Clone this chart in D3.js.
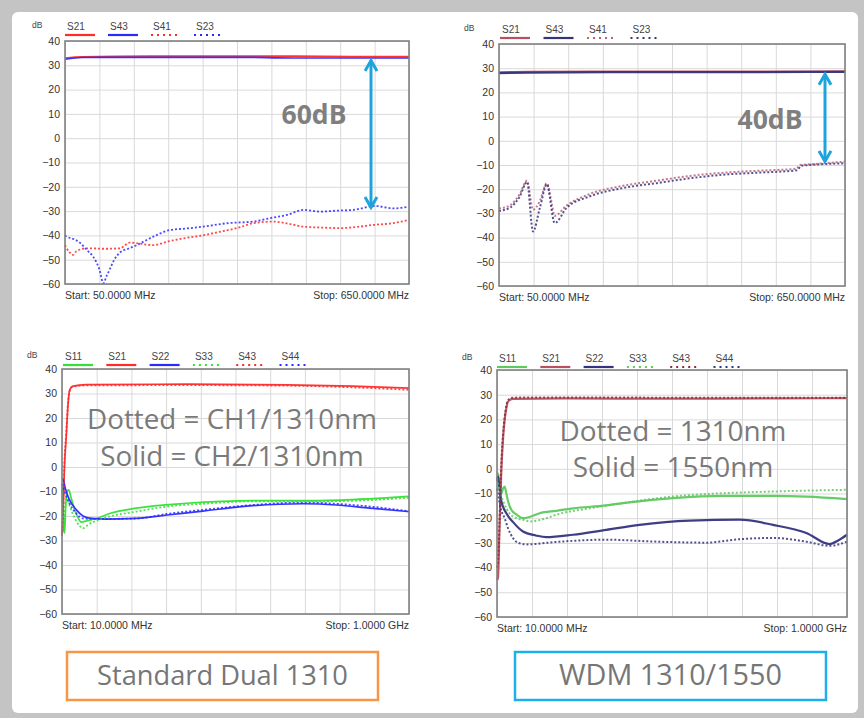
<!DOCTYPE html>
<html>
<head>
<meta charset="utf-8">
<script src="https://cdn.jsdelivr.net/npm/d3@7"></script>
<style>
  body { margin: 0; background: #c4c4c4; }
  svg { display: block; }
</style>
</head>
<body>
<div id="chart-area"></div>
<script>
/*
*    s-parameter comparison, 4 analyzer screens
*/

// y ticks shared by every screen
var yTicks = [40, 30, 20, 10, 0, -10, -20, -30, -40, -50, -60];

// sweep ranges (MHz) and footer labels
var sweepTop = [50, 650];
var sweepBottom = [10, 1000];
var startStopTop = ["Start: 50.0000 MHz", "Stop: 650.0000 MHz"];
var startStopBottom = ["Start: 10.0000 MHz", "Stop: 1.0000 GHz"];

// legend names
var namesTop = ["S21", "S43", "S41", "S23"];
var namesBottom = ["S11", "S21", "S22", "S33", "S43", "S44"];

// screen 1 - standard dual, isolation   [MHz, dB]
var p1S21 = [[50,33],[80,33.5],[200,33.8],[350,33.8],[450,33.8],[550,33.6],[650,33.6]];
var p1S43 = [[50,32.5],[80,33.2],[200,33.3],[350,33.3],[450,33],[550,33],[650,33]];
var p1S41 = [[50,-44],[53,-45.3],[58,-47],[64,-48],[70,-46.5],[88,-45.3],[120,-45.5],[146,-45.3],[163,-43],
             [204,-44],[230,-42.5],[262,-41],[290,-40],[320,-38.5],[350,-37],[378,-35],[413,-34.3],[440,-35.2],
             [466,-36.4],[500,-36.8],[530,-37],[560,-36.5],[588,-35.7],[620,-35],[649,-33.7]];
var p1S23 = [[50,-40],[53,-40.5],[65,-41.5],[76,-43],[88,-46],[99,-48.7],[110,-54],[117,-59.7],[122,-57],
             [128,-54],[136,-50],[146,-47],[160,-45.5],[175,-44],[204,-40.5],[233,-37.8],[260,-37.2],[291,-36.4],
             [332,-35],[378,-34.3],[410,-32.8],[437,-31.6],[466,-29.5],[495,-30.2],[525,-29.8],[553,-29.5],
             [591,-27.9],[623,-28.9],[649,-28.2]];

// screen 2 - wdm, isolation
var p2S21 = [[50,28.3],[100,28.5],[300,28.6],[500,28.6],[650,28.7]];
var p2S43 = [[50,28],[100,28.2],[300,28.4],[500,28.4],[650,28.5]];
var p2S41 = [[50,-28],[70,-26.5],[86,-22],[98.6,-16.5],[109,-28.5],[120.6,-25],[133,-17.5],[140,-24],[146.6,-31],
             [167,-26.8],[207,-22],[265,-18.6],[323,-16.5],[381,-14.5],[439,-13.2],[497,-12.4],[566,-11.5],
             [572,-10],[584,-9.8],[650,-8.6]];
var p2S23 = [[50,-29],[70,-27.5],[86,-23],[98.6,-17],[109,-37.5],[120.6,-28],[133,-18],[146.6,-34],[167,-27.8],
             [207,-23],[265,-19.5],[323,-17.5],[381,-15.5],[439,-14],[497,-13.2],[566,-12.2],[575,-10.3],[650,-9.3]];

// screen 3 - standard dual, gain / return loss
var p3S11 = [[10,-8],[13,-14],[15,-26],[17.6,-27],[20,-18],[24,-10],[29,-9.3],[35,-12],[45,-17],[55,-20.5],
             [65,-22.5],[80,-22],[108,-21],[146,-19],[222,-16.8],[365,-14.8],[555,-13.7],[745,-13.7],[888,-13],[1000,-12]];
var p3S21 = [[10,-28],[13,-20],[17,0],[22,12],[27,25],[32,31.5],[41,33],[79,33.6],[365,33.8],[650,33.5],[840,33],[1000,32.2]];
var p3S22 = [[10,-5],[13,-5.2],[20,-9],[30,-13],[51,-17.5],[70,-20],[89,-20.9],[136,-21.3],[222,-21],[317,-19.5],
             [412,-18],[555,-15.8],[698,-15],[793,-15.5],[888,-16.8],[1000,-18.2]];
var p3S33 = [[10,-10],[13,-20],[16,-24],[20,-14],[25,-13],[32,-16],[45,-20.5],[60,-24],[70,-25],[85,-23.5],
             [127,-21],[222,-18.2],[317,-16],[412,-15],[555,-14],[745,-14],[888,-13.5],[1000,-12.5]];
var p3S43 = [[10,-28],[13,-18],[17,2],[22,14],[27,26],[32,31],[41,32.8],[79,33.3],[365,33.4],[650,33.2],[840,32.5],[1000,31.5]];
var p3S44 = [[10,-7],[13,-8],[20,-11],[30,-14.5],[51,-19],[70,-21],[108,-21.2],[222,-21],[317,-19],[412,-17.5],
             [555,-15.5],[698,-14.5],[840,-15.5],[1000,-18]];

// screen 4 - wdm, gain / return loss
var p4S11 = [[10,-2],[12.8,-1.8],[17,-6],[22.3,-10],[27,-8],[31.7,-7.2],[36.4,-10],[41,-13],[50.5,-16.6],[65,-18.5],
             [83.5,-20],[102,-19.5],[130.7,-18],[178,-17],[225,-16],[319,-14.8],[366,-13.9],[508,-11.9],[649,-11],
             [791,-11],[885,-11.3],[1000,-12.3]];
var p4S21 = [[10,-45],[12.8,-44],[17,-25],[22.3,-0.4],[27,12],[31.7,19.8],[36.4,24.5],[41,27.2],[55,28.3],
             [200,28.5],[500,28.4],[800,28.5],[1000,28.6]];
var p4S22 = [[10,-5],[12.8,-3.1],[17,-8],[22.3,-13],[36.4,-18],[55,-21.5],[83.5,-25.4],[120,-27],[149.5,-27.7],
             [225,-26.7],[319,-24.7],[413.5,-22.7],[555,-21],[696,-20.6],[790.7,-22.7],[885,-26],[951,-30.5],
             [975,-29],[1000,-26.7]];
var p4S33 = [[10,-4],[13,-6],[20,-10],[30,-14],[45,-18],[65,-20],[83.5,-20.6],[102,-21.3],[150,-20],[178,-18.6],
             [272,-16],[366,-13.9],[508,-11.2],[649,-9.9],[791,-9.2],[1000,-8.5]];
var p4S43 = [[10,-40],[12.8,-38],[17,-22],[22.3,2],[27,14],[31.7,21],[36.4,25.5],[41,27.8],[55,28.8],
             [200,28.9],[500,28.8],[800,28.8],[1000,28.8]];
var p4S44 = [[10,-8],[15,-12],[22.3,-17],[31.7,-20],[41,-24],[55,-28],[70,-30],[93,-30.6],[178,-29.6],[319,-28.7],
             [461,-29.5],[602,-29.9],[696,-28.5],[790.7,-28],[885,-29.5],[951,-31.2],[1000,-29.5]];

// annotation texts
var gapLabels = ["60dB", "40dB"];
var noteLeft = ["Dotted = CH1/1310nm", "Solid = CH2/1310nm"];
var noteRight = ["Dotted = 1310nm", "Solid = 1550nm"];
var boxLabels = ["Standard Dual 1310", "WDM 1310/1550"];

var RED = "#ff2a2a", BLUE = "#2a2aff", GREEN = "#33e033";
var MRED = "#b8505e", NAVY = "#34347e", MGREEN = "#5fc860", DRED = "#8a2a3c";
var FONT = "Liberation Sans, Arial, sans-serif";

var panels = [
  { left: 65, right: 409, top: 41, bottom: 284, sweep: sweepTop, footer: startStopTop, legX: 65, legY: 30, step: 43, dbX: 32,
    series: [ {name: namesTop[0], data: p1S21, color: RED, dot: false},
              {name: namesTop[1], data: p1S43, color: BLUE, dot: false},
              {name: namesTop[2], data: p1S41, color: RED, dot: true},
              {name: namesTop[3], data: p1S23, color: BLUE, dot: true} ] },
  { left: 499, right: 845, top: 44, bottom: 286, sweep: sweepTop, footer: startStopTop, legX: 500, legY: 33, step: 43.5, dbX: 464, thick: true,
    series: [ {name: namesTop[0], data: p2S21, color: MRED, dot: false},
              {name: namesTop[1], data: p2S43, color: NAVY, dot: false},
              {name: namesTop[2], data: p2S41, color: "#b86078", dot: true},
              {name: namesTop[3], data: p2S23, color: NAVY, dot: true} ] },
  { left: 62, right: 409, top: 369, bottom: 614, sweep: sweepBottom, footer: startStopBottom, legX: 63, legY: 360, step: 43.3, dbX: 27,
    series: [ {name: namesBottom[0], data: p3S11, color: GREEN, dot: false},
              {name: namesBottom[1], data: p3S21, color: RED, dot: false},
              {name: namesBottom[2], data: p3S22, color: BLUE, dot: false},
              {name: namesBottom[3], data: p3S33, color: GREEN, dot: true},
              {name: namesBottom[4], data: p3S43, color: RED, dot: true},
              {name: namesBottom[5], data: p3S44, color: BLUE, dot: true} ] },
  { left: 497, right: 847, top: 370, bottom: 617, sweep: sweepBottom, footer: startStopBottom, legX: 497, legY: 362, step: 43.3, dbX: 462, thick: true,
    series: [ {name: namesBottom[0], data: p4S11, color: MGREEN, dot: false},
              {name: namesBottom[1], data: p4S21, color: MRED, dot: false},
              {name: namesBottom[2], data: p4S22, color: NAVY, dot: false},
              {name: namesBottom[3], data: p4S33, color: MGREEN, dot: true},
              {name: namesBottom[4], data: p4S43, color: DRED, dot: true},
              {name: namesBottom[5], data: p4S44, color: NAVY, dot: true} ] }
];

var svg = d3.select("#chart-area").append("svg").attr("width", 864).attr("height", 718);

svg.append("rect").attr("x", 0).attr("y", 0).attr("width", 864).attr("height", 718).attr("fill", "#c4c4c4");
svg.append("rect").attr("x", 12).attr("y", 12).attr("width", 846).attr("height", 701).attr("rx", 6).attr("fill", "white");

panels.forEach(function(p) {
    var x = d3.scaleLinear().domain(p.sweep).range([p.left, p.right]);
    var y = d3.scaleLinear().domain([-60, 40]).range([p.bottom, p.top]);
    var w = p.right - p.left, h = p.bottom - p.top;
    var g = svg.append("g");

    // grid
    var xGrid = d3.range(p.sweep[0], p.sweep[1] + 0.001, (p.sweep[1] - p.sweep[0]) / 10);
    g.append("g").attr("transform", "translate(0," + p.bottom + ")")
        .call(d3.axisBottom(x).tickValues(xGrid).tickSize(-h).tickFormat(""))
        .call(function(s) { s.select(".domain").remove(); s.selectAll("line").attr("stroke", "#d9d9d9"); });
    g.append("g").attr("transform", "translate(" + p.left + ",0)")
        .call(d3.axisLeft(y).tickValues(yTicks).tickSize(-w).tickFormat(""))
        .call(function(s) { s.select(".domain").remove(); s.selectAll("line").attr("stroke", "#d9d9d9"); });

    // y labels
    g.append("g").attr("transform", "translate(" + p.left + ",0)")
        .call(d3.axisLeft(y).tickValues(yTicks).tickSize(0).tickPadding(5))
        .call(function(s) {
            s.select(".domain").remove();
            s.selectAll("text").attr("font-family", FONT).attr("font-size", "10.5px").attr("fill", "#333");
        });

    // traces
    var line = d3.line().x(function(d) { return x(d[0]); }).y(function(d) { return y(d[1]); }).curve(d3.curveMonotoneX);
    g.append("g").selectAll("path").data(p.series).enter().append("path")
        .attr("d", function(d) { return line(d.data); })
        .attr("fill", "none")
        .attr("stroke", function(d) { return d.color; })
        .attr("stroke-width", function(d) { return d.dot ? (p.thick ? 2 : 1.8) : (p.thick ? 2.2 : 1.7); })
        .attr("stroke-dasharray", function(d) { return d.dot ? "2,2" : null; })
        .attr("opacity", function(d) { return d.dot ? 0.85 : 0.95; });

    // frame
    g.append("rect").attr("x", p.left).attr("y", p.top).attr("width", w).attr("height", h)
        .attr("fill", "none").attr("stroke", "#808080").attr("stroke-width", 1.6);

    // legend
    var leg = g.append("g").selectAll("g").data(p.series).enter().append("g")
        .attr("transform", function(d, i) { return "translate(" + (p.legX + i * p.step) + "," + p.legY + ")"; });
    leg.append("text").attr("x", 2).attr("y", 0).text(function(d) { return d.name; })
        .attr("font-family", FONT).attr("font-size", "10px").attr("fill", "#444");
    leg.append("line").attr("x1", 0).attr("x2", 30).attr("y1", 5).attr("y2", 5)
        .attr("stroke", function(d) { return d.color; })
        .attr("stroke-width", function(d) { return d.dot ? 2 : 2.2; })
        .attr("stroke-dasharray", function(d) { return d.dot ? "2,4" : null; });

    g.append("text").attr("x", p.dbX).attr("y", p.legY - 2).text("dB")
        .attr("font-family", FONT).attr("font-size", "8.5px").attr("fill", "#444");

    // start / stop
    g.append("text").attr("x", p.left).attr("y", p.bottom + 15).text(p.footer[0])
        .attr("font-family", FONT).attr("font-size", "10.5px").attr("fill", "#333");
    g.append("text").attr("x", p.right).attr("y", p.bottom + 15).attr("text-anchor", "end").text(p.footer[1])
        .attr("font-family", FONT).attr("font-size", "10.5px").attr("fill", "#333");
});

// fit a text node to a target width
function fitText(sel, width) {
    var fs = parseFloat(sel.attr("font-size"));
    var len = sel.node().getComputedTextLength();
    var size = fs * width / len;
    sel.attr("font-size", size + "px");
    return size;
}

// isolation arrows
var defs = svg.append("defs");
defs.append("marker").attr("id", "head").attr("viewBox", "0 0 10 10").attr("refX", 8).attr("refY", 5)
    .attr("markerWidth", 5).attr("markerHeight", 5).attr("orient", "auto-start-reverse")
    .append("path").attr("d", "M1,1 L8,5 L1,9").attr("fill", "none").attr("stroke", "#1ea4dc").attr("stroke-width", 2);

var p1y = d3.scaleLinear().domain([-60, 40]).range([panels[0].bottom, panels[0].top]);
var p2y = d3.scaleLinear().domain([-60, 40]).range([panels[1].bottom, panels[1].top]);
svg.append("line").attr("x1", 371).attr("x2", 371).attr("y1", p1y(32)).attr("y2", p1y(-28.5))
    .attr("stroke", "#1ea4dc").attr("stroke-width", 3).attr("marker-start", "url(#head)").attr("marker-end", "url(#head)");
svg.append("line").attr("x1", 825).attr("x2", 825).attr("y1", p2y(27.5)).attr("y2", p2y(-8.5))
    .attr("stroke", "#1ea4dc").attr("stroke-width", 3).attr("marker-start", "url(#head)").attr("marker-end", "url(#head)");

var t60 = svg.append("text").attr("x", 314).attr("y", 124).attr("text-anchor", "middle").text(gapLabels[0])
    .attr("font-family", "Open Sans, sans-serif").attr("font-weight", "bold").attr("font-size", "24px").attr("fill", "#7f7f7f");
fitText(t60, 65);
var t40 = svg.append("text").attr("x", 770).attr("y", 129).attr("text-anchor", "middle").text(gapLabels[1])
    .attr("font-family", "Open Sans, sans-serif").attr("font-weight", "bold").attr("font-size", "24px").attr("fill", "#7f7f7f");
fitText(t40, 65);

// notes
var nl = svg.append("text").attr("x", 232).attr("y", 429).attr("text-anchor", "middle").text(noteLeft[0])
    .attr("font-family", "Open Sans, sans-serif").attr("font-size", "24px").attr("fill", "#7a7a7a");
var nlSize = fitText(nl, 290);
svg.append("text").attr("x", 232).attr("y", 466).attr("text-anchor", "middle").text(noteLeft[1])
    .attr("font-family", "Open Sans, sans-serif").attr("font-size", nlSize + "px").attr("fill", "#7a7a7a");

var nr = svg.append("text").attr("x", 673).attr("y", 441).attr("text-anchor", "middle").text(noteRight[0])
    .attr("font-family", "Open Sans, sans-serif").attr("font-size", "24px").attr("fill", "#7a7a7a");
var nrSize = fitText(nr, 227);
svg.append("text").attr("x", 673).attr("y", 477).attr("text-anchor", "middle").text(noteRight[1])
    .attr("font-family", "Open Sans, sans-serif").attr("font-size", nrSize + "px").attr("fill", "#7a7a7a");

// bottom boxes
var boxes = [ {x: 67, w: 311, color: "#f79646", label: boxLabels[0], tw: 251},
              {x: 515, w: 311, color: "#1fb0ec", label: boxLabels[1], tw: 223} ];
boxes.forEach(function(b) {
    svg.append("rect").attr("x", b.x).attr("y", 652).attr("width", b.w).attr("height", 48)
        .attr("fill", "white").attr("stroke", b.color).attr("stroke-width", 2.5);
    var t = svg.append("text").attr("x", b.x + b.w / 2).attr("y", 685).attr("text-anchor", "middle").text(b.label)
        .attr("font-family", "Open Sans, sans-serif").attr("font-size", "24px").attr("fill", "#767676");
    fitText(t, b.tw);
});
</script>
</body>
</html>
